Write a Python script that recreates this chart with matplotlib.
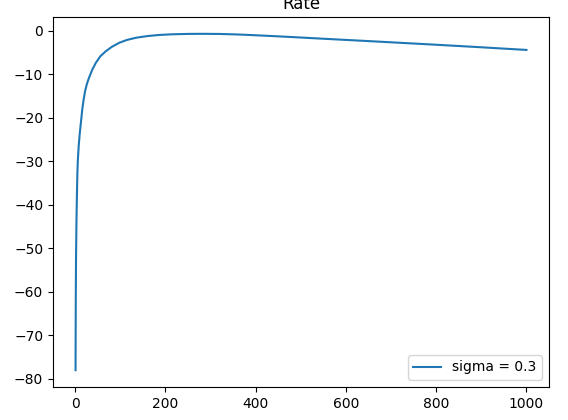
import numpy as np
import matplotlib
matplotlib.use("Agg")
import matplotlib.pyplot as plt

# values
n_vals = [1, 1.5, 2, 3, 4, 5, 6, 8, 10, 13, 16, 19, 22, 26, 31, 38, 46, 56,
          68, 82, 98, 115, 135, 160, 185, 215, 250, 285, 320, 360, 400, 450,
          500, 550, 600, 650, 700, 750, 800, 850, 900, 950, 1000]
rate_vals = [-78, -62, -53, -44, -38, -33, -30, -26.5, -24, -21, -18, -15.8,
             -14, -12.3, -10.8, -9, -7.4, -5.9, -4.75, -3.7, -2.8, -2.15,
             -1.65, -1.27, -1.02, -0.86, -0.77, -0.75, -0.78, -0.9, -1.08,
             -1.33, -1.6, -1.88, -2.15, -2.42, -2.7, -2.98, -3.26, -3.55,
             -3.84, -4.15, -4.45]
sigma = 0.3

fig = plt.figure(figsize=(5.68, 4.2), dpi=100)
ax = fig.add_axes([53 / 568, 33 / 420, 496 / 568, 370 / 420])
ax.plot(n_vals, rate_vals, label=f"sigma = {sigma}")
ax.set_title("Rate")
ax.legend(loc="lower right")

fig.savefig("out.png", dpi=100)
